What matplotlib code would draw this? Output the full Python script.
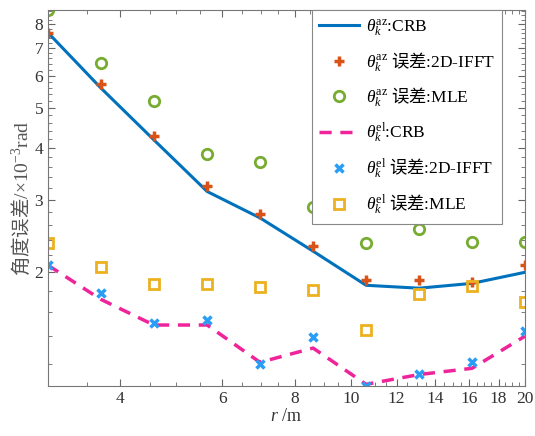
import numpy as np
import matplotlib
matplotlib.use('Agg')
import matplotlib.pyplot as plt
from matplotlib.ticker import FixedLocator, MultipleLocator, NullFormatter, ScalarFormatter

plt.rcParams['font.family'] = ['Liberation Serif', 'Noto Sans CJK SC']
plt.rcParams['mathtext.fontset'] = 'custom'
plt.rcParams['mathtext.rm'] = 'Liberation Serif'
plt.rcParams['mathtext.it'] = 'Liberation Serif:italic'
plt.rcParams['mathtext.sf'] = 'Noto Sans CJK SC'
plt.rcParams['axes.unicode_minus'] = False

# 距离 r (m)
r = [3.0, 3.7, 4.57, 5.65, 6.97, 8.61, 10.63, 13.12, 16.2, 20.0]

# 方位角 (x10^-3 rad)
az_crb = [7.62, 5.6, 4.19, 3.14, 2.71, 2.25, 1.86, 1.83, 1.88, 2.0]
az_ifft = [7.62, 5.72, 4.27, 3.23, 2.77, 2.31, 1.92, 1.92, 1.89, 2.08]
az_mle = [8.65, 6.45, 5.21, 3.88, 3.71, 2.88, 2.36, 2.55, 2.37, 2.37]

# 俯仰角 (x10^-3 rad)
el_crb = [2.08, 1.72, 1.49, 1.49, 1.21, 1.31, 1.07, 1.13, 1.17, 1.40]
el_ifft = [2.08, 1.78, 1.51, 1.53, 1.20, 1.39, 1.06, 1.135, 1.21, 1.44]
el_mle = [2.36, 2.06, 1.87, 1.87, 1.84, 1.81, 1.45, 1.77, 1.85, 1.69]

fig = plt.figure(figsize=(5.35, 4.36), dpi=100)
ax = fig.add_axes([48/535, 1-386/436, 477/535, 376/436])

ax.plot(r, az_crb, color='#0072BD', lw=2.2, label=r'$\theta_k^{\mathrm{az}}$:CRB')
ax.plot(r, az_ifft, ls='none', marker='+', ms=7, mew=2.5, color='#D95319',
        label=r'$\theta_k^{\mathrm{az}}\ \mathsf{误差}$:2D-IFFT')
ax.plot(r, az_mle, ls='none', marker='o', ms=7.5, mew=2, mfc='none', color='#77AC30',
        label=r'$\theta_k^{\mathrm{az}}\ \mathsf{误差}$:MLE')
ax.plot(r, el_crb, color='#F0249A', lw=2.5, dashes=(3.5, 2.5), label=r'$\theta_k^{\mathrm{el}}$:CRB')
ax.plot(r, el_ifft, ls='none', marker='x', ms=5.5, mew=2.5, color='#2A9DF4',
        label=r'$\theta_k^{\mathrm{el}}\ \mathsf{误差}$:2D-IFFT')
ax.plot(r, el_mle, ls='none', marker='s', ms=6.5, mew=2, mfc='none', color='#EDB120',
        label=r'$\theta_k^{\mathrm{el}}\ \mathsf{误差}$:MLE')

ax.set_xscale('log')
ax.set_yscale('log')
ax.set_xlim(min(r), max(r))
ax.set_ylim(min(el_ifft), max(az_mle))

ax.xaxis.set_major_locator(FixedLocator([4, 6, 8, 10, 12, 14, 16, 18, 20]))
ax.xaxis.set_major_formatter(ScalarFormatter())
ax.xaxis.set_minor_locator(MultipleLocator(0.5))
ax.xaxis.set_minor_formatter(NullFormatter())
ax.yaxis.set_major_locator(FixedLocator([2, 3, 4, 5, 6, 7, 8]))
ax.yaxis.set_major_formatter(ScalarFormatter())
ax.yaxis.set_minor_locator(MultipleLocator(0.2))
ax.yaxis.set_minor_formatter(NullFormatter())

ax.tick_params(which='both', direction='in', top=True, right=True, colors='#666666',
               labelcolor='#333333', labelsize=12.5)
ax.tick_params(which='major', length=5)
ax.tick_params(which='minor', length=3)
for s in ax.spines.values():
    s.set_color('#777777')

ax.set_xlabel('$r$ /m', fontsize=13, color='#333333', labelpad=1)
ax.set_ylabel(r'$\mathsf{角度误差}$/×10$^{-3}$rad', fontsize=14, color='#555555', labelpad=2)

leg = ax.legend(loc='upper right', bbox_to_anchor=(502/535, 1-10/436), bbox_transform=fig.transFigure,
                borderaxespad=0, fontsize=12.5, fancybox=False, framealpha=1, edgecolor='#888888',
                handlelength=2.3, labelspacing=0.7, borderpad=0.4, handletextpad=0.4)
leg.get_frame().set_linewidth(0.8)

fig.savefig('out.png', dpi=100)
